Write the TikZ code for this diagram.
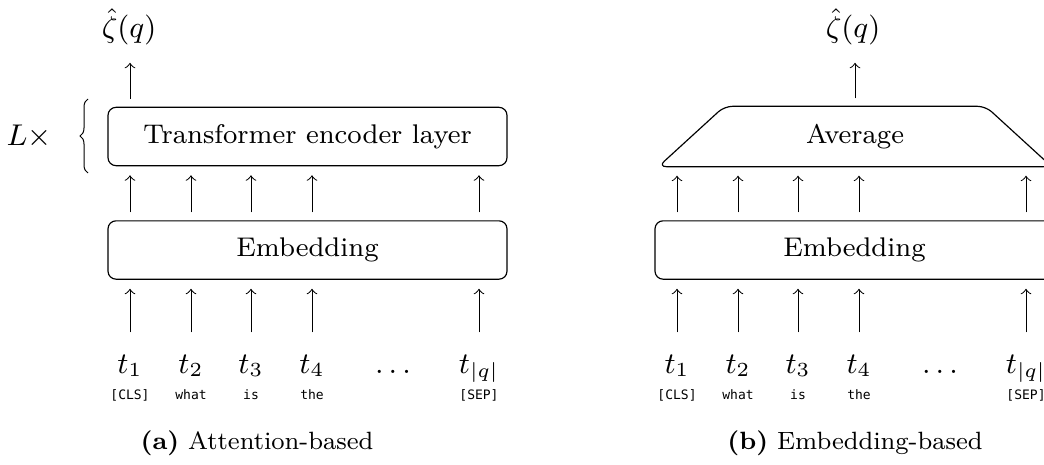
\documentclass[tikz,border=0pt]{standalone}
\usepackage{fontspec}
\newfontfamily\tokfont{DejaVu Sans Mono}
\usetikzlibrary{decorations.pathreplacing,calc}
\tikzset{
  every node/.style={font=\fontsize{8.1}{9.7}\selectfont},
  arr/.style={->, line width=0.3pt},
  blk/.style={draw, rounded corners=2.4pt, line width=0.35pt, minimum width=119.7pt, minimum height=17.5pt, inner sep=0pt},
  tok/.style={anchor=base, inner sep=0pt, text height=6pt, text depth=2pt, font=\fontsize{8.6}{10}\selectfont},
  word/.style={anchor=base, inner sep=0pt, font=\tokfont\fontsize{3.9}{4.5}\selectfont},
  outp/.style={inner sep=0pt, font=\fontsize{8.8}{10}\selectfont},
  captxt/.style={anchor=base, inner sep=0pt, font=\fontsize{7.5}{9}\selectfont},
}
\begin{document}
\begin{tikzpicture}[x=0.3pt, y=-0.3pt]
\useasboundingbox (0,0) rectangle (1044,464);

% ---------- (a) ----------
\node[blk] (tfm) at (307.5,136.5) {Transformer encoder layer};
\node[blk] (emb) at (307.5,250) {Embedding};
\node[outp] (za) at (129,27) {$\hat{\zeta}(q)$};
\node[outp] (lx) at (29,137) {$L\times$};
\coordinate (br1) at (88,173);
\coordinate (br2) at (88,99);
\draw[line width=0.3pt, decorate, decoration={brace, amplitude=2.4pt}] (br1) -- (br2);

\foreach \i/\x/\t/\w in {1/130/t_1/{[CLS]}, 2/191/t_2/what, 3/251/t_3/is, 4/312/t_4/the, 5/479/t_{|q|}/{[SEP]}} {
  \node[tok] (a\i) at (\x,373) {$\t$};
  \node[word] (wa\i) at (\x,399) {\w};
  \draw[arr, shorten <=6pt, shorten >=2.7pt] (a\i.north) -- (a\i |- emb.south);
  \draw[arr, shorten <=2.4pt, shorten >=2.7pt] (a\i |- emb.north) -- (a\i |- tfm.south);
}
\node[tok] (da) at (393,373) {$\dots$};
\draw[arr, shorten <=2.4pt, shorten >=5.1pt] (a1 |- tfm.north) -- (a1 |- za.south);
\node[captxt] (capa) at (257,449) {\textbf{(a)} Attention-based};

% ---------- (b) ----------
\node[blk] (embb) at (854.5,250) {Embedding};
\node[inner sep=0pt, minimum width=117.6pt, minimum height=17.7pt] (avg) at (855,136.5) {Average};
\draw[line width=0.35pt, rounded corners=2.4pt]
  (avg.south west) -- ([xshift=19.8pt]avg.north west) -- ([xshift=-19.8pt]avg.north east) -- (avg.south east) -- cycle;
\node[outp] (zb) at (853,27) {$\hat{\zeta}(q)$};

\foreach \i/\x/\t/\w in {1/677/t_1/{[CLS]}, 2/738/t_2/what, 3/798/t_3/is, 4/859/t_4/the, 5/1026/t_{|q|}/{[SEP]}} {
  \node[tok] (b\i) at (\x,373) {$\t$};
  \node[word] (wb\i) at (\x,399) {\w};
  \draw[arr, shorten <=6pt, shorten >=2.7pt] (b\i.north) -- (b\i |- embb.south);
  \draw[arr, shorten <=2.4pt, shorten >=2.7pt] (b\i |- embb.north) -- (b\i |- avg.south);
}
\node[tok] (db) at (940,373) {$\dots$};
\draw[arr, shorten <=2.4pt, shorten >=5.1pt] (avg.north) -- (avg.north |- zb.south);
\node[captxt] (capb) at (855,449) {\textbf{(b)} Embedding-based};
\end{tikzpicture}
\end{document}
